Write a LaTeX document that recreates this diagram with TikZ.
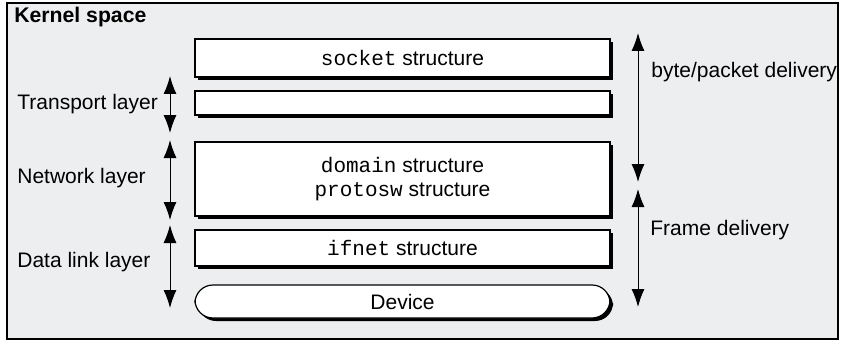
\documentclass[tikz,border=0pt]{standalone}
\usepackage{fontspec}
\setmainfont{Liberation Sans}
\setmonofont{Liberation Mono}
\usetikzlibrary{arrows.meta,shadows}
\definecolor{kernelgray}{HTML}{EDEEF0}
\tikzset{
  box/.style={draw, fill=white, line width=0.6pt, minimum width=207.5pt, inner sep=0pt,
    general shadow={fill=black, shadow xshift=1.5pt, shadow yshift=-1.5pt}},
  updown/.style={{Latex[length=9pt,width=6.5pt]}-{Latex[length=9pt,width=6.5pt]}, line width=0.5pt},
  lbl/.style={anchor=west, inner sep=0pt},
}
\begin{document}
\begin{tikzpicture}[x=0.5pt,y=-0.5pt,font=\fontsize{10.5}{12}\selectfont]
  % Cadre (kernel space)
  \useasboundingbox (0,0) rectangle (844,342);
  \draw[fill=kernelgray, line width=0.8pt] (7,3) rectangle (838,339);
  \node[lbl, font=\fontsize{10.6}{12}\selectfont\bfseries] (kernel) at (14,17) {Kernel space};

  % Structures
  \node[box, minimum height=19pt] (socket) at (402.5,58) {\texttt{socket} structure};
  \node[box, minimum height=12pt] (transport) at (402.5,103) {};
  \node[box, minimum height=37pt, align=center] (network) at (402.5,179)
    {\texttt{domain} structure\\\texttt{protosw} structure};
  \node[box, minimum height=18pt] (ifnet) at (402.5,248) {\texttt{ifnet} structure};
  \node[box, rounded corners=9pt, minimum height=16.5pt] (device) at (402.5,301.5) {Device};

  % Couches (gauche)
  \node[lbl] (transportlbl) at (17,104) {Transport layer};
  \node[lbl] (networklbl) at (17,178) {Network layer};
  \node[lbl] (datalinklbl) at (17,262) {Data link layer};
  \coordinate (tTop) at (170,76);  \coordinate (tBot) at (170,133);
  \coordinate (nTop) at (170,140); \coordinate (nBot) at (170,220);
  \coordinate (dTop) at (170,225); \coordinate (dBot) at (170,308);
  \draw[updown] (tTop) -- (tBot);
  \draw[updown] (nTop) -- (nBot);
  \draw[updown] (dTop) -- (dBot);

  % Livraison (droite)
  \node[lbl] (bytelbl) at (651,72) {byte/packet delivery};
  \node[lbl] (framelbl) at (650,230) {Frame delivery};
  \coordinate (bTop) at (638,33);  \coordinate (bBot) at (638,182);
  \coordinate (fTop) at (638,189); \coordinate (fBot) at (638,307);
  \draw[updown] (bTop) -- (bBot);
  \draw[updown] (fTop) -- (fBot);
\end{tikzpicture}
\end{document}
